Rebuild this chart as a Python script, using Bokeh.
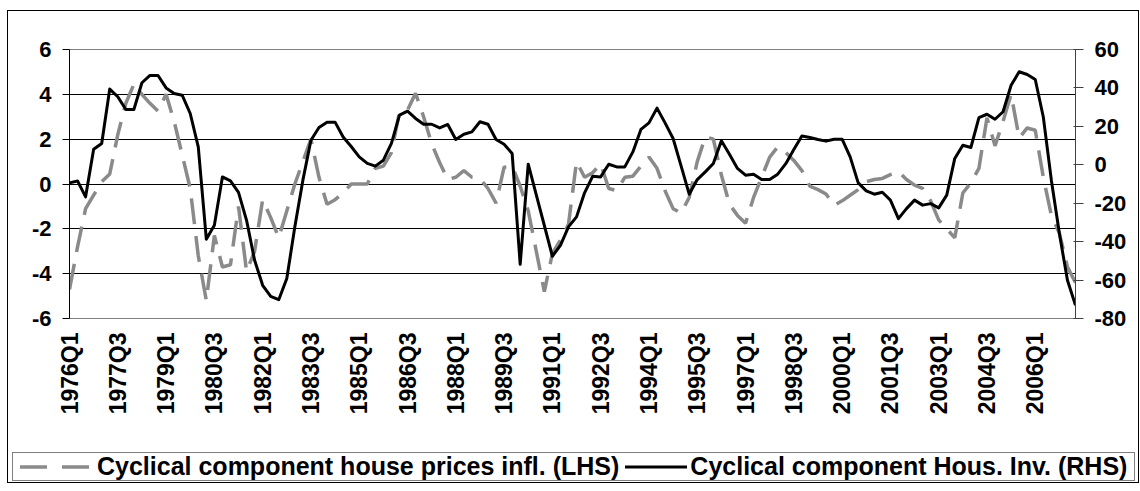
from bokeh.plotting import figure
from bokeh.layouts import column
from bokeh.models import Range1d, LinearAxis, FixedTicker, ColumnDataSource, Div
from bokeh.embed import file_html
from bokeh.resources import INLINE
from math import pi

# ---- data -----------------------------------------------------------------
start_year = 1976
house_prices_infl = [
    -4.7, -2.8, -1.1, -0.5, 0.1, 0.45, 2.2, 3.6, 4.45, 4.0,
    3.6, 3.25, 4.0, 2.8, 1.3, -0.2, -3.2, -5.2, -2.3, -3.7,
    -3.6, -1.0, -3.9, -3.0, -0.7, -1.5, -2.4, -1.2, 0.0, 1.0,
    2.0, 0.3, -0.9, -0.7, -0.4, 0.0, 0.0, 0.0, 0.7, 0.8,
    1.4, 3.2, 3.3, 4.05, 3.0, 1.8, 0.95, 0.2, 0.3, 0.6,
    0.3, 0.25, -0.2, -0.85, 0.75, 0.8, -0.1, -1.2, -3.0, -4.8,
    -3.1, -2.5, -1.8, 1.0, 0.3, 0.5, 0.9, -0.2, -0.3, 0.3,
    0.35, 0.8, 1.2, 0.7, -0.3, -1.1, -1.3, -0.6, 1.0, 2.1,
    2.0, 0.4, -0.9, -1.4, -1.75, -0.6, 0.3, 1.2, 1.65, 1.4,
    1.05, 0.6, -0.1, -0.25, -0.45, -0.95, -0.75, -0.5, -0.25, 0.1,
    0.2, 0.25, 0.42, 0.55, 0.2, -0.05, -0.2, -0.75, -1.6, -2.0,
    -2.4, -0.4, 0.05, 0.7, 2.95, 1.7, 2.8, 4.0, 2.05, 2.5,
    2.4, 0.3, -1.4, -2.2, -3.7, -4.4,
]
housing_investment = [
    -9.4, -8.4, -16.7, 8.1, 11.1, 39.4, 35.4, 28.8, 28.8, 42.7,
    46.5, 46.5, 40.0, 37.1, 36.2, 26.7, 9.3, -38.7, -31.5, -6.3,
    -8.4, -14.4, -28.9, -49.7, -62.7, -68.5, -70.2, -59.2, -32.3, -8.0,
    12.8, 19.4, 22.2, 22.2, 14.5, 9.5, 4.1, 0.7, -0.7, 2.4,
    11.1, 25.8, 27.9, 24.1, 21.1, 21.1, 19.2, 21.0, 13.2, 15.9,
    17.1, 22.4, 21.1, 13.2, 10.7, 5.9, -51.8, 0.3, -15.6, -31.6,
    -47.6, -41.9, -32.3, -27.1, -14.6, -6.0, -6.3, 0.3, -1.1, -1.1,
    6.7, 18.4, 21.8, 29.5, 21.8, 13.7, -0.7, -15.3, -7.7, -3.7,
    0.7, 12.5, 5.5, -1.9, -5.4, -4.9, -7.7, -7.7, -4.9, 0.6,
    7.9, 15.0, 14.2, 13.2, 12.3, 13.3, 13.3, 4.1, -9.4, -13.6,
    -15.3, -14.3, -18.4, -28.0, -22.8, -18.4, -21.0, -20.2, -22.4, -15.8,
    3.3, 10.2, 9.0, 24.6, 26.3, 23.7, 27.6, 41.4, 48.4, 47.0,
    44.4, 24.9, -8.0, -35.8, -60.1, -73.1,
]
tick_labels = ["1976Q1", "1977Q3", "1979Q1", "1980Q3", "1982Q1", "1983Q3",
               "1985Q1", "1986Q3", "1988Q1", "1989Q3", "1991Q1", "1992Q3",
               "1994Q1", "1995Q3", "1997Q1", "1998Q3", "2000Q1", "2001Q3",
               "2003Q1", "2004Q3", "2006Q1"]
left_ticks = [-6, -4, -2, 0, 2, 4, 6]
right_ticks = [-80, -60, -40, -20, 0, 20, 40, 60]
series_names = ["Cyclical component house prices infl. (LHS)",
                "Cyclical component Hous. Inv. (RHS)"]

n = len(house_prices_infl)
quarters = [f"{start_year + i // 4}Q{i % 4 + 1}" for i in range(n)]
xs = list(range(n))
src = ColumnDataSource(dict(x=xs, q=quarters, hp=house_prices_infl,
                            hi=housing_investment))
tick_pos = [quarters.index(t) for t in tick_labels]

FONT = "Liberation Sans"
HP_COLOR, HP_WIDTH, HP_DASH = "#8a8a8a", 3.5, "26 12"
HI_COLOR, HI_WIDTH = "black", 3

p = figure(width=1130, height=438, output_backend="svg", toolbar_location=None,
           x_range=Range1d(0, n - 1), y_range=Range1d(left_ticks[0], left_ticks[-1]),
           min_border_left=61, min_border_right=63, min_border_top=38,
           min_border_bottom=131)
p.extra_y_ranges = {"rhs": Range1d(right_ticks[0], right_ticks[-1])}
p.background_fill_color = "white"
p.border_fill_color = "white"
p.outline_line_color = "#808080"
p.outline_line_width = 1

# grid
p.xgrid.visible = False
p.ygrid.ticker = FixedTicker(ticks=left_ticks[1:-1])
p.ygrid.grid_line_color = "black"
p.ygrid.grid_line_width = 1

# x axis
xa = p.xaxis[0]
xa.ticker = FixedTicker(ticks=tick_pos)
xa.major_label_overrides = {pos: lab for pos, lab in zip(tick_pos, tick_labels)}
xa.major_label_orientation = pi / 2
xa.major_tick_line_color = None
xa.minor_tick_line_color = None
xa.axis_line_color = "#808080"
xa.major_label_standoff = 8
xa.major_label_text_font = FONT
xa.major_label_text_font_style = "bold"
xa.major_label_text_font_size = "23px"
xa.major_label_text_color = "black"

# left axis
ya = p.yaxis[0]
ya.ticker = FixedTicker(ticks=left_ticks)
ya.major_label_overrides = {t: str(t) for t in left_ticks}
ya.minor_tick_line_color = None
ya.major_tick_in = 0
ya.major_tick_out = 7
ya.major_tick_line_color = "black"
ya.axis_line_color = "black"
ya.major_label_standoff = 11
ya.major_label_text_font = FONT
ya.major_label_text_font_style = "bold"
ya.major_label_text_font_size = "22px"
ya.major_label_text_color = "black"

# right axis
ra = LinearAxis(y_range_name="rhs", ticker=FixedTicker(ticks=right_ticks))
ra.major_label_overrides = {t: str(t) for t in right_ticks}
ra.minor_tick_line_color = None
ra.major_tick_in = 2
ra.major_tick_out = 8
ra.major_tick_line_color = "#404040"
ra.axis_line_color = "#404040"
ra.major_label_standoff = 11
ra.major_label_text_font = FONT
ra.major_label_text_font_style = "bold"
ra.major_label_text_font_size = "22px"
ra.major_label_text_color = "black"
p.add_layout(ra, "right")

# series
p.line("x", "hp", source=src, line_color=HP_COLOR, line_width=HP_WIDTH,
       line_dash=HP_DASH)
p.line("x", "hi", source=src, y_range_name="rhs", line_color=HI_COLOR,
       line_width=HI_WIDTH, line_join="round")

# ---- legend strip (HTML, spans the whole chart width like the original) ---
legend_html = f"""
<div style="box-sizing:border-box; margin:3px 0 0 4px; width:1123px; height:29px;
            border:1px solid #808080; display:flex; align-items:center;
            font-family:'{FONT}'; font-weight:bold; font-size:25px; color:black;
            white-space:nowrap; line-height:1; overflow:hidden;">
  <svg width="75" height="8" style="margin-left:7px; margin-right:2px; flex:none">
    <line x1="0" y1="4" x2="75" y2="4" stroke="{HP_COLOR}" stroke-width="{HP_WIDTH}"
          stroke-dasharray="27,15"/>
  </svg>
  <span>{series_names[0]}</span>
  <svg width="62" height="8" style="margin-left:6px; margin-right:3px; flex:none">
    <line x1="0" y1="4" x2="62" y2="4" stroke="{HI_COLOR}" stroke-width="{HI_WIDTH}"/>
  </svg>
  <span>{series_names[1]}</span>
</div>
"""
legend_div = Div(text=legend_html, width=1130, height=33, margin=(0, 0, 0, 0))

layout = column(p, legend_div, spacing=0,
                styles={"border": "1px solid black", "margin-left": "7px",
                        "margin-top": "10px"})

open("out.html", "w").write(file_html(layout, INLINE))
